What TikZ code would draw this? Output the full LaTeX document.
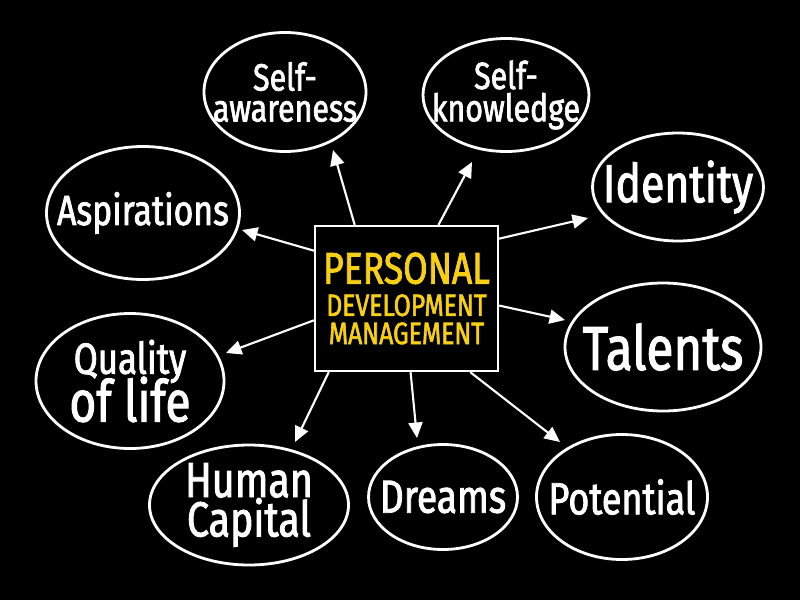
\documentclass[tikz,border=0pt]{standalone}
\usepackage{fontspec}
\newfontfamily\handfont[FakeStretch=0.8,FakeBold=1.8]{Fira Sans}
\usetikzlibrary{arrows.meta,shapes.geometric}
\definecolor{chalkyellow}{RGB}{247,208,20}
\setlength{\lineskiplimit}{-100pt}
\tikzset{
  bubble/.style={ellipse, draw=white, line width=2pt, inner sep=0pt},
  bubbletext/.style={inner sep=0pt, text=white, align=center},
  hub/.style={rectangle, draw=white, line width=2pt, inner sep=0pt,
    text=chalkyellow, align=center,
    minimum width=4.575cm, minimum height=3.625cm},
  link/.style={white, line width=1.5pt,
    -{Triangle[length=11pt,width=10pt,fill=white]}},
}
\begin{document}
\begin{tikzpicture}[line cap=round]
  \fill[black] (0,0) rectangle (20,-15);
  \useasboundingbox (0,0) rectangle (20,-15);
  % Centre box.
  \node[hub, font=\handfont\fontsize{22}{20}\selectfont] (pdm) at (10.1625,-7.4625)
    {{\fontsize{31.5}{20}\selectfont PERSONAL}\\[3pt]DEVELOPMENT\\MANAGEMENT};
  % Ellipses round it.
  \node[bubble, minimum width=4.05cm,  minimum height=2.975cm] (aware)   at (7.125,-2.3) {};
  \node[bubble, minimum width=4.15cm,  minimum height=2.825cm] (know)    at (12.65,-2.375) {};
  \node[bubble, minimum width=4.275cm, minimum height=2.7cm]   (ident)   at (16.95,-4.675) {};
  \node[bubble, minimum width=4.825cm, minimum height=3.325cm] (aspir)   at (3.575,-5.325) {};
  \node[bubble, minimum width=4.9cm,   minimum height=3.2cm]   (talent)  at (16.575,-8.675) {};
  \node[bubble, minimum width=4.7cm,   minimum height=3.375cm] (quality) at (3.25,-9.525) {};
  \node[bubble, minimum width=4.975cm, minimum height=3cm]     (human)   at (6.225,-12.625) {};
  \node[bubble, minimum width=3.725cm, minimum height=2.625cm] (dreams)  at (11.075,-12.425) {};
  \node[bubble, minimum width=4.275cm, minimum height=3.125cm] (potent)  at (15.55,-12.425) {};
  % Their texts.
  \node[bubbletext, font=\handfont\fontsize{27}{22}\selectfont] (aware-t) at (aware)
    {Self-\\awareness};
  \node[bubbletext, font=\handfont\fontsize{27}{23}\selectfont] (know-t) at (know)
    {Self-\\knowledge};
  \node[bubbletext, font=\handfont\fontsize{38}{38}\selectfont] (ident-t) at (ident)
    {Identity};
  \node[bubbletext, font=\handfont\fontsize{30}{30}\selectfont] (aspir-t) at (aspir)
    {Aspirations};
  \node[bubbletext, font=\handfont\fontsize{44}{44}\selectfont] (talent-t) at (talent)
    {Talents};
  \node[bubbletext, font=\handfont\fontsize{36}{34}\selectfont] (quality-t) at (quality)
    {{\fontsize{31}{34}\selectfont Quality}\\{\fontsize{41}{34}\selectfont of life}};
  \node[bubbletext, font=\handfont\fontsize{35}{28}\selectfont] (human-t) at (human)
    {Human\\Capital};
  \node[bubbletext, font=\handfont\fontsize{33}{33}\selectfont] (dreams-t) at (dreams)
    {Dreams};
  \node[bubbletext, font=\handfont\fontsize{32}{32}\selectfont] (potent-t) at (potent)
    {Potential};
  % Arrow tips.
  \coordinate (t-aware)   at (8.325,-3.75);
  \coordinate (t-know)    at (11.8,-4.05);
  \coordinate (t-ident)   at (14.7,-5.45);
  \coordinate (t-aspir)   at (6.05,-5.75);
  \coordinate (t-talent)  at (14.125,-8.0);
  \coordinate (t-quality) at (5.65,-8.825);
  \coordinate (t-human)   at (7.375,-11.05);
  \coordinate (t-dreams)  at (10.425,-10.95);
  \coordinate (t-potent)  at (14.0,-11.05);
  % Arrows.
  \draw[link] ([xshift=1.025cm]pdm.north west) -- (t-aware);
  \draw[link] ([xshift=3.125cm]pdm.north west) -- (t-know);
  \draw[link] ([yshift=-0.35cm]pdm.north east) -- (t-ident);
  \draw[link] ([yshift=-0.65cm]pdm.north west) -- (t-aspir);
  \draw[link] ([yshift=-2.025cm]pdm.north east) -- (t-talent);
  \draw[link] ([yshift=1.3cm]pdm.south west) -- (t-quality);
  \draw[link] ([xshift=0.375cm]pdm.south west) -- (t-human);
  \draw[link] ([xshift=2.425cm]pdm.south west) -- (t-dreams);
  \draw[link] ([xshift=3.925cm]pdm.south west) -- (t-potent);
\end{tikzpicture}
\end{document}
